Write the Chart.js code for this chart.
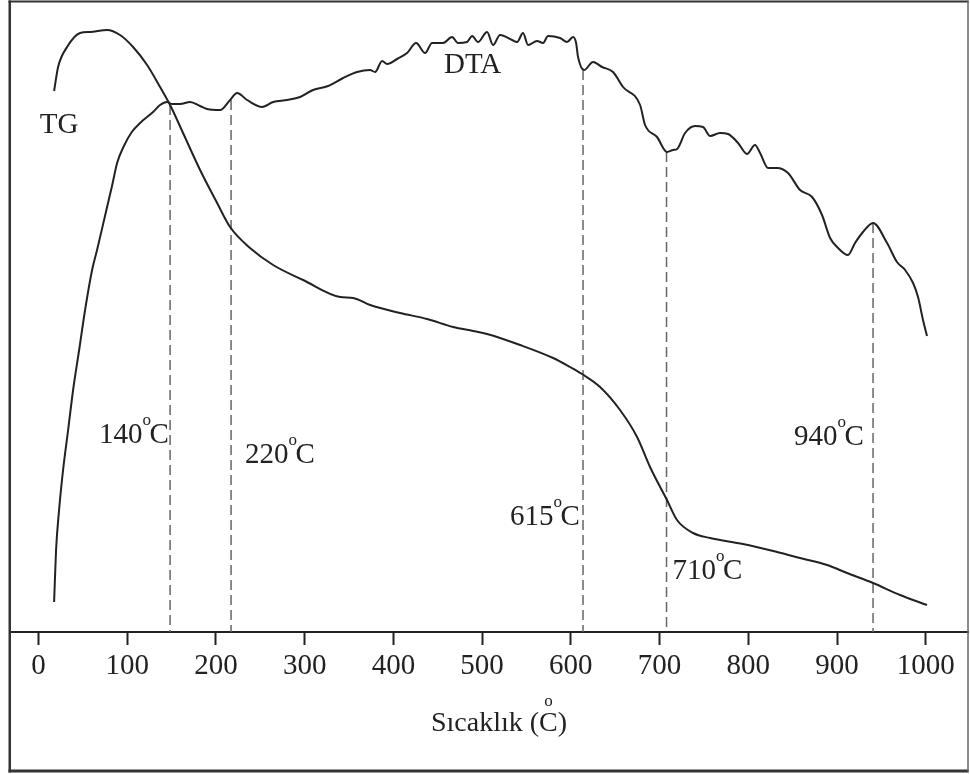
<!DOCTYPE html>
<html>
<head>
<meta charset="utf-8">
<script src="https://cdn.jsdelivr.net/npm/chart.js@4.4.0/dist/chart.umd.min.js"></script>
<style>
html,body{margin:0;padding:0;background:#fff;}
#wrap{width:970px;height:774px;position:relative;}
</style>
</head>
<body>
<div id="wrap"><canvas id="c"></canvas></div>
<script>
// ---- data (temperature in °C, signal in arbitrary units) ----
const tgTemp = [17.7, 22.2, 32.3, 47.0, 58.3, 77.4, 92.0, 106.7, 122.5, 137.1, 148.4, 163.0, 182.2, 201.4, 216.0, 238.5, 264.5, 298.3, 340.0, 354.6, 373.8, 407.6, 438.0, 467.3, 489.8, 505.6, 542.8, 580.0, 599.1, 612.6, 632.9, 655.4, 674.6, 689.2, 708.3, 719.6, 737.7, 756.8, 794.0, 832.3, 858.3, 888.7, 911.2, 940.5, 970.9, 1001.3];
const tgSignal = [541, 565, 585, 599, 600, 602, 597, 585, 567, 545, 527, 499, 462, 429, 405, 384, 367, 352, 335, 334, 327, 319, 313, 305, 301, 298, 287, 274, 265, 258, 245, 222, 195, 165, 132, 112, 99, 94, 88, 80, 74, 67, 59, 49, 37, 27];

const dtaTemp = [17.7, 19.9, 23.3, 27.8, 33.5, 39.1, 45.9, 52.6, 60.5, 66.1,
  77.4, 82.7, 88.7, 95.8, 105.2, 114.6, 129.2, 137.1, 145.0, 150.6, 159.7, 170.9, 182.2,
  190.1, 204.7, 216.0, 223.9, 235.2, 252.1, 264.5, 280.2, 294.9, 309.5,
  326.4, 343.3, 359.1, 373.7, 379.4, 387.3, 392.9, 404.2, 415.4, 425.6,
  435.7, 443.6, 456.0, 466.1, 472.9, 483.0, 488.7, 495.4, 505.6, 512.3,
  520.2, 533.7, 539.4, 546.1, 551.8, 561.9, 568.7, 574.3, 587.8, 595.7,
  602.5, 605.9, 608.1, 614.9, 625.0, 635.2, 647.5, 658.8, 678.0, 683.6,
  697.1, 708.4, 715.2, 719.7, 728.7, 739.9, 748.9, 756.9, 768.1, 777.1,
  788.4, 798.5, 807.5, 813.2, 822.2, 832.3, 844.7, 858.2, 871.8, 883.0,
  892.1, 901.1, 912.3, 920.2, 929.2, 940.5, 956.3, 967.5, 976.6, 985.6,
  991.2, 996.8, 1001.3];
const dtaSignal = [30, 82, 122, 162, 202, 242, 282, 322, 362, 382,
  425, 445, 469, 485, 500, 509, 520, 527, 530, 528, 528, 530, 526,
  523, 522, 532, 539, 532, 525, 530, 532, 535, 542,
  546, 554, 560, 562, 560, 571, 568, 573, 579, 589,
  579, 589, 589, 595, 589, 590, 596, 590, 600, 587,
  597, 592, 590, 599, 587, 591, 589, 596, 594, 590,
  595, 589, 575, 562, 570, 565, 560, 545, 527, 507,
  495, 480, 482, 483, 499, 506, 505, 496, 499, 498,
  489, 478, 487, 479, 464, 464, 459, 442, 435, 417,
  394, 384, 377, 389, 400, 409, 389, 370, 362, 349,
  335, 312, 296];

const markerTemps = [148.4, 217.1, 613.7, 707.8, 940.5];
const markerTops = [527, 532, 562, 480, 409];
const markerLabels = ['140', '220', '615', '710', '940'];

const tickValues = [0, 100, 200, 300, 400, 500, 600, 700, 800, 900, 1000];
const seriesNames = ['TG', 'DTA'];
const axisTitleParts = ['Sıcaklık (', 'C', ')'];

// ---- layout / style (not data) ----
const FONT = '"Liberation Serif", "Times New Roman", serif';
const INK = '#222';
// label anchors: offset in px from marker line, baseline in signal units
const markerLabelPos = [
  {dx: -71, y: 189},
  {dx: 14, y: 169},
  {dx: -73, y: 107},
  {dx: 6, y: 53},
  {dx: -79, y: 187}
];
const seriesLabelPos = [{x: 1.5, y: 499}, {x: 457, y: 559}];

const toXY = (xs, ys) => xs.map((x, i) => ({x: x, y: ys[i]}));

const datasets = [
  {label: seriesNames[0], data: toXY(tgTemp, tgSignal), borderColor: INK, borderWidth: 2,
   pointRadius: 0, cubicInterpolationMode: 'monotone', fill: false},
  {label: seriesNames[1], data: toXY(dtaTemp, dtaSignal), borderColor: INK, borderWidth: 2,
   pointRadius: 0, cubicInterpolationMode: 'monotone', fill: false}
];
markerTemps.forEach((t, i) => {
  datasets.push({label: 'm' + i, data: [{x: t, y: markerTops[i]}, {x: t, y: 0}],
    borderColor: '#666', borderWidth: 1.5, borderDash: [10, 5], pointRadius: 0, fill: false});
});

function drawDegLabel(ctx, digits, x, base, size) {
  ctx.font = size + 'px ' + FONT;
  ctx.fillText(digits, x, base);
  const w = ctx.measureText(digits).width;
  ctx.font = '17px ' + FONT;
  ctx.fillText('o', x + w, base - 18);
  ctx.font = size + 'px ' + FONT;
  ctx.fillText('C', x + w + 7, base);
}

const overlay = {
  id: 'overlay',
  afterDraw(chart) {
    const ctx = chart.ctx;
    const xs = chart.scales.x, ys = chart.scales.y;
    ctx.save();
    ctx.fillStyle = INK;
    ctx.textAlign = 'left';
    ctx.textBaseline = 'alphabetic';
    // marker labels
    markerLabels.forEach((lab, i) => {
      const px = xs.getPixelForValue(markerTemps[i]) + markerLabelPos[i].dx;
      const py = ys.getPixelForValue(markerLabelPos[i].y);
      drawDegLabel(ctx, lab, px, py, 29);
    });
    // series labels
    ctx.font = '29px ' + FONT;
    seriesNames.forEach((n, i) => {
      ctx.fillText(n, xs.getPixelForValue(seriesLabelPos[i].x), ys.getPixelForValue(seriesLabelPos[i].y));
    });
    // axis title with degree mark over C
    const size = 28;
    ctx.font = size + 'px ' + FONT;
    const w0 = ctx.measureText(axisTitleParts[0]).width;
    const w1 = ctx.measureText(axisTitleParts[1]).width;
    const w2 = ctx.measureText(axisTitleParts[2]).width;
    const total = w0 + w1 + w2;
    const cx = (chart.chartArea.left + chart.chartArea.right) / 2 + 10;
    const base = 731;
    const x = cx - total / 2;
    ctx.fillText(axisTitleParts[0], x, base);
    ctx.fillText(axisTitleParts[1], x + w0, base);
    ctx.fillText(axisTitleParts[2], x + w0 + w1, base);
    ctx.font = '17px ' + FONT;
    const wo = ctx.measureText('o').width;
    ctx.fillText('o', x + w0 + w1 / 2 - wo / 2, base - 25);
    // frame
    ctx.strokeStyle = '#333';
    ctx.lineWidth = 2.5;
    ctx.beginPath(); ctx.moveTo(9.75, 0.5); ctx.lineTo(9.75, 772.5); ctx.stroke();
    ctx.lineWidth = 2;
    ctx.beginPath(); ctx.moveTo(8.5, 1.5); ctx.lineTo(968.5, 1.5); ctx.stroke();
    ctx.lineWidth = 3;
    ctx.beginPath(); ctx.moveTo(8.5, 771); ctx.lineTo(968.5, 771); ctx.stroke();
    ctx.strokeStyle = '#666';
    ctx.lineWidth = 1.5;
    ctx.beginPath(); ctx.moveTo(968, 0.5); ctx.lineTo(968, 772.5); ctx.stroke();
    ctx.restore();
  }
};

new Chart(document.getElementById('c'), {
  type: 'line',
  data: {datasets: datasets},
  plugins: [overlay],
  options: {
    responsive: true,
    maintainAspectRatio: false,
    animation: false,
    events: [],
    layout: {padding: {left: 10, right: 2, top: 2, bottom: 0}},
    plugins: {legend: {display: false}, tooltip: {enabled: false}, title: {display: false}},
    scales: {
      x: {
        type: 'linear',
        min: -32,
        max: 1047.5,
        afterBuildTicks: (s) => { s.ticks = tickValues.map(v => ({value: v})); },
        afterFit: (s) => { s.height = 142; },
        grid: {display: true, drawOnChartArea: false, drawTicks: true, tickLength: 13, tickWidth: 2, tickColor: INK},
        border: {display: true, color: INK, width: 2},
        ticks: {padding: 4, color: INK, font: {family: FONT, size: 29}, maxRotation: 0, autoSkip: false,
                callback: (v) => String(v)}
      },
      y: {type: 'linear', display: false, min: 0, max: 630}
    }
  }
});
</script>
</body>
</html>
